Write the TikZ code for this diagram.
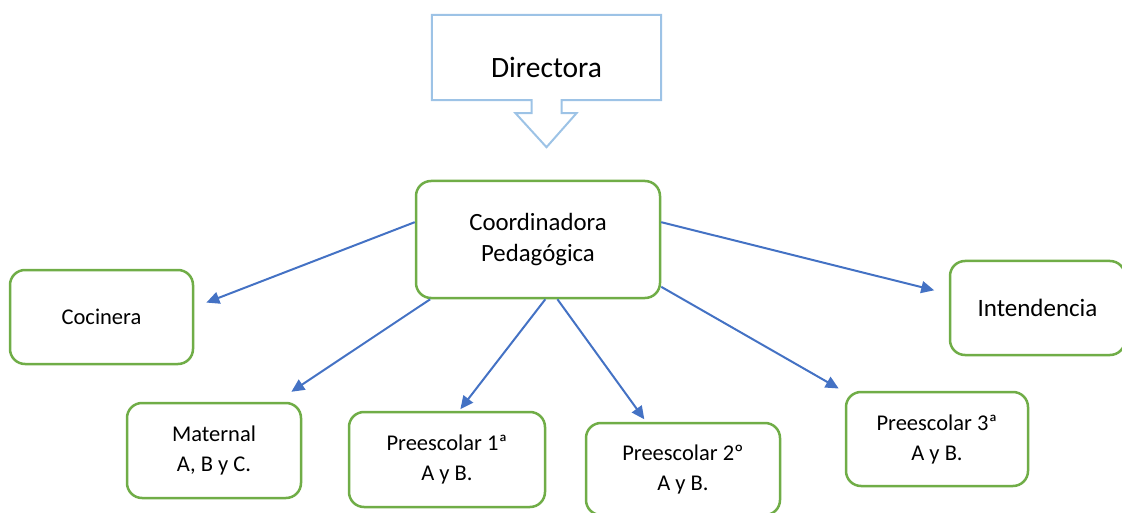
\documentclass[tikz,border=0pt]{standalone}
\usepackage{fontspec}
\setmainfont{Carlito}
\usetikzlibrary{arrows.meta}
\definecolor{verde}{HTML}{70AD47}
\definecolor{azul}{HTML}{4472C4}
\definecolor{celeste}{HTML}{9DC3E6}
\begin{document}
\begin{tikzpicture}[x=1pt,y=-1pt,
caja/.style={draw=verde,line width=2.5pt,rounded corners=15pt,fill=white,align=center,font=\fontsize{22.5}{30}\selectfont},
flecha/.style={azul,line width=2pt,-{Triangle[length=13pt,width=12pt]}}]
\useasboundingbox (0,0) rectangle (1122,513);
\node[minimum width=229pt,minimum height=85pt,text height=40pt,text depth=0pt,font=\fontsize{29.5}{35}\selectfont] (dir) at (546.5,57.5) {Directora};
\draw[celeste,line width=2pt] (dir.south west) -- (dir.north west) -- (dir.north east) -- (dir.south east)
 -- ([xshift=15pt]dir.south) -- ++(0,13) -- ++(15,0) -- ([yshift=-47pt]dir.south)
 -- ([xshift=-31pt,yshift=-13pt]dir.south) -- ++(16,0) -- ([xshift=-15pt]dir.south) -- cycle;
\node[caja,minimum width=244pt,minimum height=117pt,font=\fontsize{24.8}{31}\selectfont] (coord) at (538,239.5) {Coordinadora\\Pedagógica};
\node[caja,minimum width=183pt,minimum height=94pt] (cocina) at (101.5,317) {Cocinera};
\node[caja,minimum width=175pt,minimum height=94pt,font=\fontsize{25}{30}\selectfont] (intend) at (1037.5,308) {Intendencia};
\node[caja,minimum width=174pt,minimum height=95pt] (mat) at (214,450.5) {Maternal\\A, B y C.};
\node[caja,minimum width=196pt,minimum height=95pt] (pre1) at (447,459.5) {Preescolar 1ª\\A y B.};
\node[caja,minimum width=194pt,minimum height=92pt] (pre2) at (683,469) {Preescolar 2º\\A y B.};
\node[caja,minimum width=182pt,minimum height=94pt] (pre3) at (937,439) {Preescolar 3ª\\A y B.};
% flechas
\draw[flecha,shorten >=13pt] (coord.172) -- (cocina.6);
\draw[flecha,shorten >=18pt] (coord.209) -- (mat.38);
\draw[flecha,shorten >=2pt] (coord.277) -- (pre1.76);
\draw[flecha,shorten >=3pt] (coord.288) -- (pre2.128);
\draw[flecha,shorten >=7pt] (coord.339) -- (pre3.153);
\draw[flecha,shorten >=15pt] (coord.8) -- (intend.171);
\end{tikzpicture}
\end{document}
